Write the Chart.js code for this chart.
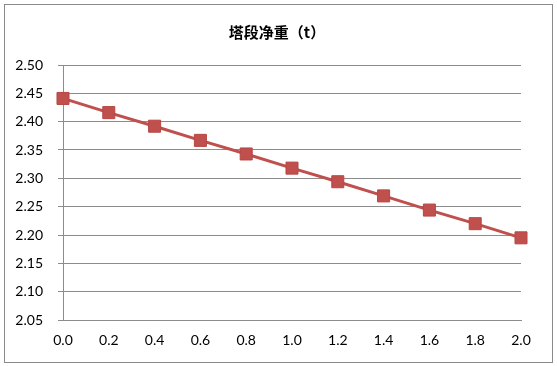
<!DOCTYPE html>
<html>
<head>
<meta charset="utf-8">
<script src="https://cdn.jsdelivr.net/npm/chart.js@4.4.1/dist/chart.umd.min.js"></script>
<style>
  body { margin: 0; background: #fff; }
  #wrap { position: relative; width: 557px; height: 366px; }
  #frame { position: absolute; left: 4px; top: 4px; width: 547px; height: 357px; border: 1px solid #8a8a8a; pointer-events: none; }
</style>
</head>
<body>
<div id="wrap">
  <canvas id="chart" width="557" height="366"></canvas>
  <div id="frame"></div>
</div>
<script>
// 数据
const positions = [0.0, 0.2, 0.4, 0.6, 0.8, 1.0, 1.2, 1.4, 1.6, 1.8, 2.0];
const netWeight = [2.441, 2.416, 2.392, 2.367, 2.343, 2.318, 2.294, 2.269, 2.244, 2.220, 2.195];
const chartTitle = '塔段净重（t）';
const yMin = 2.05, yMax = 2.50, yStep = 0.05;
const xMin = 0, xMax = 2.0, xStep = 0.2;

const gridColor = '#8c8c8c';
const tickFont = { family: 'Lato', size: 14 };

// 标题居中于整个图框（Chart.js 自带标题只居中于去掉右侧留白后的区域）
const titlePlugin = {
  id: 'frameTitle',
  afterDraw(chart) {
    const c = chart.ctx;
    c.save();
    c.font = 'bold 15px "Noto Sans CJK SC"';
    c.fillStyle = '#000';
    c.textAlign = 'center';
    c.textBaseline = 'middle';
    c.fillText(chartTitle, 277, 32);
    c.restore();
  }
};

const ctx = document.getElementById('chart').getContext('2d');
new Chart(ctx, {
  type: 'line',
  data: {
    datasets: [{
      data: positions.map((x, i) => ({ x: x, y: netWeight[i] })),
      borderColor: '#C0504D',
      borderWidth: 3,
      backgroundColor: '#C0504D',
      pointStyle: 'rect',
      pointRadius: 8.5,
      pointBorderColor: '#B84643',
      pointBorderWidth: 1,
      tension: 0,
      clip: false
    }]
  },
  options: {
    responsive: false,
    animation: false,
    layout: { padding: { left: 0, right: 36, top: 65, bottom: 0 } },
    plugins: {
      legend: { display: false },
      tooltip: { enabled: false },
      title: { display: false }
    },
    scales: {
      x: {
        type: 'linear',
        min: xMin,
        max: xMax,
        afterFit: s => { s.height = 46; },
        ticks: {
          stepSize: xStep,
          color: '#000',
          font: tickFont,
          padding: 7,
          callback: v => v.toFixed(1)
        },
        grid: { display: false, drawTicks: true, tickLength: 5, color: gridColor },
        border: { display: true, color: gridColor, width: 1 }
      },
      y: {
        min: yMin,
        max: yMax,
        afterFit: s => { s.width = 63; },
        ticks: {
          stepSize: yStep,
          color: '#000',
          font: tickFont,
          padding: 15,
          callback: v => v.toFixed(2)
        },
        grid: { color: gridColor, lineWidth: 1, tickLength: 5 },
        border: { display: true, color: gridColor, width: 1 }
      }
    }
  },
  plugins: [titlePlugin]
});
</script>
</body>
</html>
